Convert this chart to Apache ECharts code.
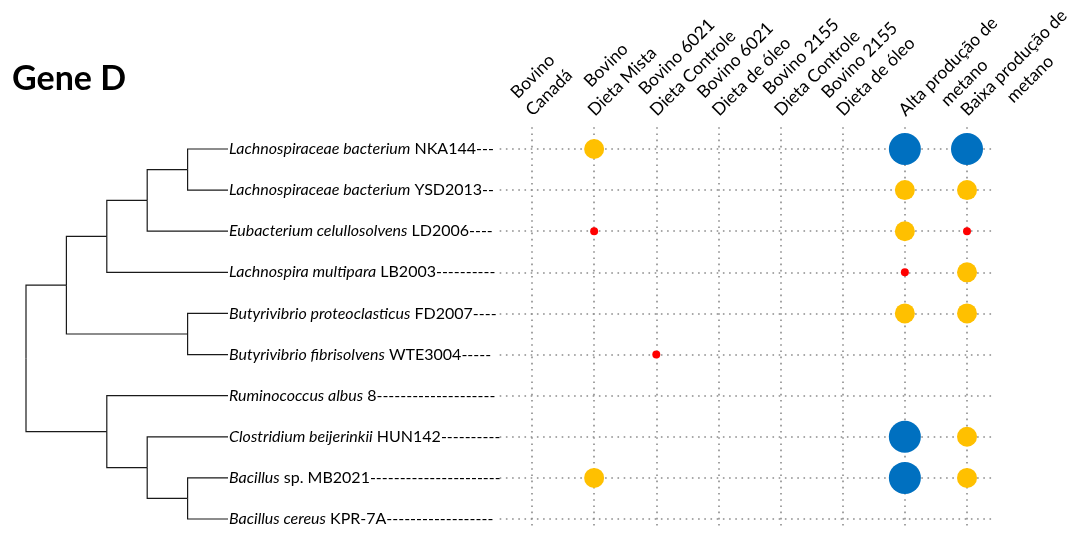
<!DOCTYPE html>
<html>
<head>
<meta charset="utf-8">
<script src="https://cdn.jsdelivr.net/npm/echarts@6/dist/echarts.min.js"></script>
<style>
  html, body { margin: 0; padding: 0; background: #ffffff; }
  #chart { width: 1073px; height: 534px; }
</style>
</head>
<body>
<div id="chart"></div>
<script>
// Column headers (two lines each)
const groups = [
  ['Bovino', 'Canadá'],
  ['Bovino', 'Dieta Mista'],
  ['Bovino 6021', 'Dieta Controle'],
  ['Bovino 6021', 'Dieta de óleo'],
  ['Bovino 2155', 'Dieta Controle'],
  ['Bovino 2155', 'Dieta de óleo'],
  ['Alta produção de', 'metano'],
  ['Baixa produção de', 'metano']
];

// Species names (italic part) and strain text with leader dashes
const speciesNames = [
  'Lachnospiraceae bacterium',
  'Lachnospiraceae bacterium',
  'Eubacterium celullosolvens',
  'Lachnospira multipara',
  'Butyrivibrio proteoclasticus',
  'Butyrivibrio fibrisolvens',
  'Ruminococcus albus',
  'Clostridium beijerinkii',
  'Bacillus',
  'Bacillus cereus'
];
const strains = [
  'NKA144---',
  'YSD2013--',
  'LD2006----',
  'LB2003----------',
  'FD2007----',
  'WTE3004-----',
  '8--------------------',
  'HUN142----------',
  'sp. MB2021----------------------',
  'KPR-7A------------------'
];

// Detection level per species (rows) and group (columns): 0 none, 1 low, 2 medium, 3 high
const presence = [
  [0, 2, 0, 0, 0, 0, 3, 3],
  [0, 0, 0, 0, 0, 0, 2, 2],
  [0, 1, 0, 0, 0, 0, 2, 1],
  [0, 0, 0, 0, 0, 0, 1, 2],
  [0, 0, 0, 0, 0, 0, 2, 2],
  [0, 0, 1, 0, 0, 0, 0, 0],
  [0, 0, 0, 0, 0, 0, 0, 0],
  [0, 0, 0, 0, 0, 0, 3, 2],
  [0, 2, 0, 0, 0, 0, 3, 2],
  [0, 0, 0, 0, 0, 0, 0, 0]
];

// Cladogram: internal nodes with their depth level; children are leaf indices or node ids
const leafLevel = 5;
const clades = {
  A: { level: 4, children: [0, 1] },
  B: { level: 3, children: ['A', 2] },
  C: { level: 2, children: ['B', 3] },
  E: { level: 4, children: [4, 5] },
  D: { level: 1, children: ['C', 'E'] },
  H: { level: 4, children: [8, 9] },
  G: { level: 3, children: [7, 'H'] },
  F: { level: 2, children: [6, 'G'] },
  root: { level: 0, children: ['D', 'F'] }
};

const FONT = 'Lato';
const symbolSizes = [0, 8, 20, 32];
const symbolColors = ['#ffffff', '#ff0000', '#ffc000', '#0070c0'];

// node position helpers
function nodeY(c) {
  if (typeof c === 'number') return c;
  const ch = clades[c].children.map(nodeY);
  return (Math.min.apply(null, ch) + Math.max.apply(null, ch)) / 2;
}
function nodeLevel(c) {
  return typeof c === 'number' ? leafLevel : clades[c].level;
}
const treeSegments = [];
Object.keys(clades).forEach(function (id) {
  const node = clades[id];
  const y = nodeY(id);
  node.children.forEach(function (c) {
    const cy = nodeY(c);
    treeSegments.push({ coords: [[node.level, y], [node.level, cy], [nodeLevel(c), cy]] });
  });
});

// bubbles
const bubbles = [];
presence.forEach(function (row, r) {
  row.forEach(function (v, c) {
    if (v > 0) bubbles.push([c, r, v]);
  });
});

// dotted guide lines through every row and column
const nCols = groups.length, nRows = speciesNames.length;
const guides = [];
for (let c = 0; c < nCols; c++) guides.push({ coords: [[c, -0.53], [c, nRows - 1 + 0.27]] });
for (let r = 0; r < nRows; r++) guides.push({ coords: [[-0.52, r], [nCols - 1 + 0.45, r]] });

// Headers whose longest line is the last one rest on it; the others rest on their first line
function restsOnLastLine(g) { return g[1].length >= g[0].length; }
function headerAxis(gridIndex, onLast) {
  return {
    gridIndex: gridIndex, type: 'value', min: 0, max: nCols - 1, interval: 1, position: 'top',
    axisLine: { show: false }, axisTick: { show: false }, splitLine: { show: false },
    axisLabel: {
      show: true, rotate: 45, align: 'left', verticalAlign: onLast ? 'bottom' : 'middle',
      margin: 23, padding: [0, 0, 0, 7], hideOverlap: false,
      showMinLabel: true, showMaxLabel: true,
      formatter: function (v) {
        const g = groups[Math.round(v)];
        if (!g || restsOnLastLine(g) !== onLast) return '';
        return '{h|' + g[0] + '}\n{h|' + g[1] + '}';
      },
      rich: { h: { fontFamily: FONT, fontSize: 17.5, color: '#000', align: 'center', lineHeight: 23 } }
    }
  };
}

const plotRect = { left: 532, right: 106, top: 149, bottom: 15, outerBoundsMode: 'none', containLabel: false };

const chart = echarts.init(document.getElementById('chart'), null, { renderer: 'canvas' });
chart.setOption({
  backgroundColor: '#ffffff',
  animation: false,
  title: {
    text: 'Gene D',
    left: 7,
    top: 57,
    textStyle: { fontFamily: FONT, fontSize: 34, fontWeight: 'bold', color: '#000' }
  },
  grid: [
    Object.assign({}, plotRect),
    { left: 26, right: 845, top: 149, bottom: 15, outerBoundsMode: 'none', containLabel: false },
    Object.assign({}, plotRect)
  ],
  xAxis: [
    headerAxis(0, true),
    { gridIndex: 1, type: 'value', min: 0, max: leafLevel, show: false },
    headerAxis(2, false)
  ],
  yAxis: [
    {
      gridIndex: 0, type: 'value', min: 0, max: nRows - 1, interval: 1, inverse: true,
      axisLine: { show: false }, axisTick: { show: false }, splitLine: { show: false },
      axisLabel: {
        show: true, align: 'left', margin: 303, hideOverlap: false,
        showMinLabel: true, showMaxLabel: true,
        formatter: function (v) {
          const i = Math.round(v);
          return '{i|' + speciesNames[i] + '}{n| ' + strains[i] + '}';
        },
        rich: {
          i: { fontFamily: FONT, fontSize: 16, fontStyle: 'italic', color: '#000' },
          n: { fontFamily: FONT, fontSize: 16, color: '#000' }
        }
      }
    },
    { gridIndex: 1, type: 'value', min: 0, max: nRows - 1, inverse: true, show: false },
    { gridIndex: 2, type: 'value', min: 0, max: nRows - 1, inverse: true, show: false }
  ],
  series: [
    {
      type: 'lines', coordinateSystem: 'cartesian2d', xAxisIndex: 0, yAxisIndex: 0,
      clip: false, silent: true, z: 1,
      lineStyle: { color: '#8c8c8c', width: 1.6, type: [1.6, 4.6], opacity: 1 },
      data: guides
    },
    {
      type: 'scatter', xAxisIndex: 0, yAxisIndex: 0, z: 3,
      symbolSize: function (d) { return symbolSizes[d[2]]; },
      itemStyle: { opacity: 1, color: function (p) { return symbolColors[p.data[2]]; } },
      data: bubbles
    },
    {
      type: 'lines', coordinateSystem: 'cartesian2d', xAxisIndex: 1, yAxisIndex: 1,
      polyline: true, clip: false, silent: true, z: 2,
      lineStyle: { color: '#1a1a1a', width: 1.2, opacity: 1 },
      data: treeSegments
    }
  ]
});
</script>
</body>
</html>
